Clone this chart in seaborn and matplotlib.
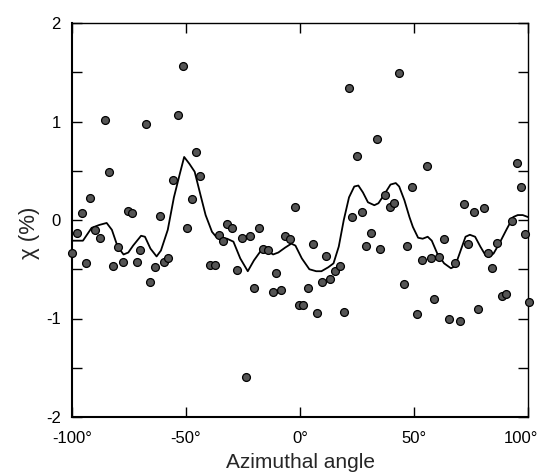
import matplotlib
matplotlib.use("Agg")
import matplotlib.pyplot as plt
import matplotlib.transforms as mtransforms
import seaborn as sns
import pandas as pd

# ---- data ----
point_x = [-100, -97.6, -95.5, -93.9, -92, -89.8, -87.9, -85.5, -83.8, -82, -80, -77.6,
           -75.6, -73.5, -71.4, -70, -67.7, -65.6, -63.5, -61.4, -59.5, -57.9, -55.5,
           -53.3, -51.2, -49.4, -47.3, -45.8, -43.8, -39.4, -37.4, -35.5, -33.9, -32,
           -29.7, -27.6, -25.5, -23.8, -22, -20, -17.9, -16.1, -14.1, -12, -10.5, -8.3,
           -6.4, -4.2, -2.1, -0.6, 1.4, 3.5, 5.5, 7.4, 9.5, 11.2, 13.3, 15.5, 17.4,
           19.2, 21.5, 23, 25, 27, 28.9, 31.1, 33.6, 35, 37.4, 39.4, 41.4, 43.5, 45.5,
           47, 49.2, 51.1, 53.5, 55.6, 57.4, 58.9, 61, 63.3, 65.5, 68.2, 70, 72.1, 73.9,
           76.4, 77.9, 80.6, 82.3, 84.4, 86.2, 88.5, 90.5, 92.9, 95, 96.8, 98.6, 100.5]
point_y = [-0.33, -0.135, 0.07, -0.44, 0.22, -0.105, -0.18, 1.02, 0.49, -0.47, -0.27, -0.43,
           0.09, 0.075, -0.43, -0.30, 0.97, -0.63, -0.48, 0.04, -0.43, -0.39, 0.41,
           1.07, 1.56, -0.08, 0.21, 0.69, 0.45, -0.46, -0.46, -0.15, -0.21, -0.04,
           -0.08, -0.51, -0.18, -1.59, -0.16, -0.69, -0.08, -0.29, -0.30, -0.73, -0.54, -0.71,
           -0.16, -0.19, 0.13, -0.86, -0.86, -0.69, -0.24, -0.94, -0.63, -0.37, -0.60, -0.52, -0.47,
           -0.93, 1.34, 0.03, 0.65, 0.085, -0.26, -0.13, 0.82, -0.29, 0.25, 0.13, 0.17, 1.49, -0.65,
           -0.26, 0.34, -0.95, -0.41, 0.55, -0.39, -0.80, -0.38, -0.19, -1.01, -0.44, -1.03, 0.16, -0.24,
           0.08, -0.90, 0.125, -0.34, -0.49, -0.23, -0.77, -0.75, -0.01, 0.58, 0.335, -0.14, -0.83]

line_x = [-100, -95.2, -91.4, -88, -84.8, -82.5, -80, -77.4, -75.3, -73.2, -69.7, -68, -65.6,
          -62.9, -61, -58, -55.3, -52.7, -50.8, -48.5, -46.2, -43.6, -41.4, -38.6, -36.8,
          -35, -32, -29.2, -26.2, -22.9, -20.2, -17.1, -14.4, -11.8, -9.5, -6.5, -3.8, -2,
          0.8, 4.1, 7.1, 9.4, 12.4, 14.7, 17, 19.2, 21.5, 23.8, 25.6, 27.6, 29.8, 32.6, 34.4,
          36.7, 39.7, 42, 43.5, 45.8, 48, 49.5, 51.8, 53.8, 56, 57.8, 60.2, 63.2, 66.2, 68,
          70, 72.6, 74.5, 76.8, 79.1, 81.4, 82.9, 84.9, 87.4, 90.5, 93.5, 95.5, 97.7, 100]
line_y = [-0.21, -0.21, -0.08, -0.05, -0.03, -0.1, -0.27, -0.35, -0.33, -0.26, -0.16, -0.17, -0.29,
          -0.37, -0.31, -0.10, 0.23, 0.47, 0.64, 0.57, 0.49, 0.25, 0.05, -0.12, -0.17,
          -0.18, -0.19, -0.22, -0.39, -0.52, -0.41, -0.31, -0.31, -0.35, -0.33, -0.28, -0.24, -0.26,
          -0.39, -0.50, -0.52, -0.52, -0.48, -0.44, -0.27, 0.0, 0.23, 0.34, 0.35, 0.28, 0.18, 0.15, 0.17,
          0.25, 0.36, 0.375, 0.34, 0.2, 0.03, -0.07, -0.18, -0.19, -0.17, -0.21, -0.34, -0.44, -0.49, -0.47,
          -0.34, -0.17, -0.15, -0.17, -0.27, -0.36, -0.375, -0.34, -0.24, -0.10, 0.03, 0.05, 0.05, 0.03]

x_ticks = [-100, -50, 0, 50, 100]
x_tick_labels = ["-100°", "-50°", "0°", "50°", "100°"]
y_ticks = [-2, -1.5, -1, -0.5, 0, 0.5, 1, 1.5, 2]
y_tick_labels = ["-2", "", "-1", "", "0", "", "1", "", "2"]

pts = pd.DataFrame({"angle": point_x, "chi": point_y})
crv = pd.DataFrame({"angle": line_x, "chi": line_y})

sns.set_style("ticks")
plt.rcParams["font.family"] = ["Liberation Sans", "DejaVu Sans"]

fig = plt.figure(figsize=(5.39, 4.72), dpi=100)
ax = fig.add_axes([72 / 539, 1 - 417 / 472, 456 / 539, 394 / 472])

sns.lineplot(data=crv, x="angle", y="chi", sort=False, color="black", linewidth=1.3,
             ax=ax, zorder=2)
sns.scatterplot(data=pts, x="angle", y="chi", s=32, color="#555555", edgecolor="black",
                linewidth=0.9, ax=ax, zorder=3, clip_on=False)

ax.set_xlim(-100, 100)
ax.set_ylim(-2, 2)
ax.set_xticks(x_ticks)
ax.set_xticklabels(x_tick_labels)
ax.set_yticks(y_ticks)
ax.set_yticklabels(y_tick_labels)

ax.tick_params(axis="both", direction="in", length=7, width=1.0, colors="black",
               labelsize=12, top=True, right=True)
ax.tick_params(axis="x", pad=10)
ax.tick_params(axis="y", pad=8)
for s in ax.spines.values():
    s.set_visible(True)
    s.set_color("black")
    s.set_linewidth(1.0)
ax.spines["left"].set_linewidth(1.5)
ax.spines["bottom"].set_linewidth(1.5)

# nudge the last x tick label left so it stays in the picture, as in the reference
last = ax.get_xticklabels()[-1]
last.set_transform(last.get_transform() + mtransforms.ScaledTranslation(-7 / 100, 0, fig.dpi_scale_trans))

ax.set_xlabel("Azimuthal angle", fontsize=15)
ax.xaxis.set_label_coords(0.5, -(462 - 417) / 394)
ax.xaxis.label.set_va("center")
ax.set_ylabel("χ (%)", fontsize=16)
ax.yaxis.set_label_coords(-(72 - 30) / 456, (417 - 233) / 394)
ax.yaxis.label.set_va("center")

fig.savefig("out.png", dpi=100)
